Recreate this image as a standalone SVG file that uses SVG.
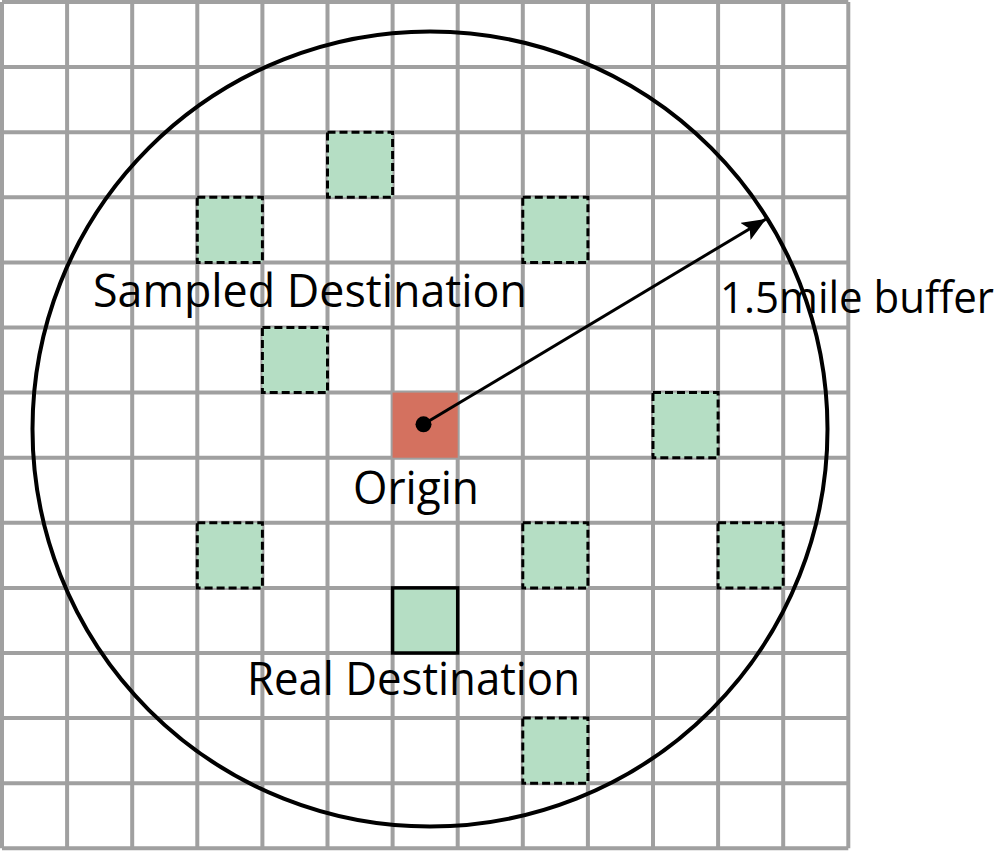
<svg xmlns="http://www.w3.org/2000/svg" width="1006" height="851" viewBox="0 0 1006 851">
<style>
.grid{stroke:#a0a0a0;stroke-width:4;fill:none}
.samp{fill:#b5dec4;stroke:#000;stroke-width:3;stroke-dasharray:8 4}
.real{fill:#b5dec4;stroke:#000;stroke-width:3.5}
.orig{fill:#d4715f}
.lbl{font-family:"Open Sans","Noto Sans",sans-serif;font-size:46px;fill:#000}
.sm{font-size:44px}
</style>
<defs>
<marker id="ah" markerUnits="userSpaceOnUse" markerWidth="26" markerHeight="20" refX="24" refY="10" orient="auto">
<path d="M0,0 L24,10 L0,20 L5,10 Z" fill="#000"/>
</marker>
</defs>
<rect width="1006" height="851" fill="#fff"/>
<g id="grid">
<path class="grid" d="M2,2V848.3M67.1,2V848.3M132.2,2V848.3M197.3,2V848.3M262.4,2V848.3M327.5,2V848.3M392.6,2V848.3M457.7,2V848.3M522.8,2V848.3M587.9,2V848.3M653,2V848.3M718.1,2V848.3M783.2,2V848.3M848.3,2V848.3"/>
<path class="grid" d="M2,2H848.3M2,67.1H848.3M2,132.2H848.3M2,197.3H848.3M2,262.4H848.3M2,327.5H848.3M2,392.6H848.3M2,457.7H848.3M2,522.8H848.3M2,587.9H848.3M2,653H848.3M2,718.1H848.3M2,783.2H848.3M2,848.3H848.3"/>
</g>
<g id="sampled">
<rect class="samp" x="327.5" y="132.2" width="65.1" height="65.1"/>
<rect class="samp" x="197.3" y="197.3" width="65.1" height="65.1"/>
<rect class="samp" x="522.8" y="197.3" width="65.1" height="65.1"/>
<rect class="samp" x="262.4" y="327.5" width="65.1" height="65.1"/>
<rect class="samp" x="653" y="392.6" width="65.1" height="65.1"/>
<rect class="samp" x="197.3" y="522.8" width="65.1" height="65.1"/>
<rect class="samp" x="522.8" y="522.8" width="65.1" height="65.1"/>
<rect class="samp" x="718.1" y="522.8" width="65.1" height="65.1"/>
<rect class="samp" x="522.8" y="718.1" width="65.1" height="65.1"/>
</g>
<g id="real-destination">
<rect class="real" x="392.6" y="587.9" width="65.1" height="65.1"/>
</g>
<g id="origin">
<rect class="orig" x="392.6" y="392.6" width="65.1" height="65.1"/>
<circle cx="423.5" cy="424.3" r="8" fill="#000"/>
</g>
<g id="buffer">
<circle cx="430" cy="429" r="397.5" fill="none" stroke="#000" stroke-width="4"/>
</g>
<g id="connectors">
<line x1="423.5" y1="424.3" x2="766" y2="219" stroke="#000" stroke-width="3" marker-end="url(#ah)"/>
</g>
<g id="labels">
<text class="lbl" x="93" y="307" textLength="434" lengthAdjust="spacingAndGlyphs">Sampled Destination</text>
<text class="lbl" x="353" y="504" textLength="126" lengthAdjust="spacingAndGlyphs">Origin</text>
<text class="lbl" x="247" y="695" textLength="333" lengthAdjust="spacingAndGlyphs">Real Destination</text>
<text class="lbl sm" x="720" y="313" textLength="274" lengthAdjust="spacingAndGlyphs">1.5mile buffer</text>
</g>
</svg>
